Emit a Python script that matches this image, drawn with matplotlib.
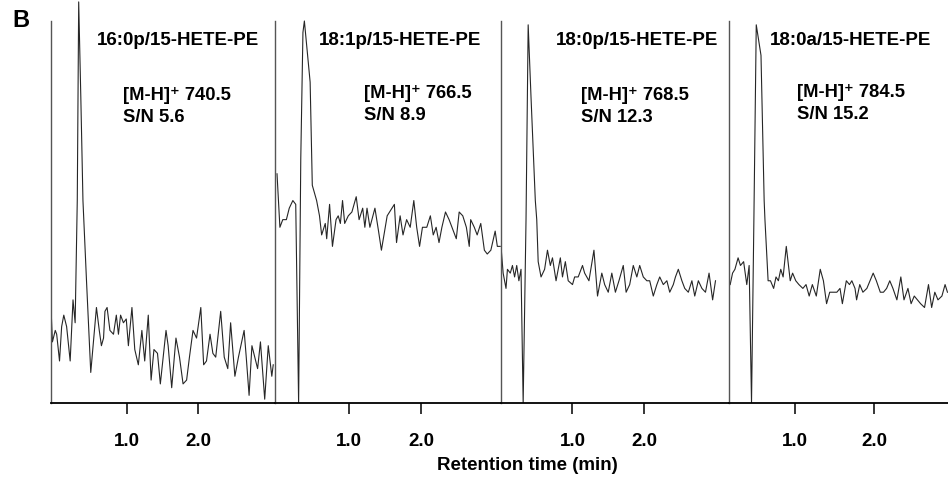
import matplotlib.pyplot as plt

plt.rcParams['font.family'] = ['Liberation Sans', 'DejaVu Sans']
plt.rcParams['font.weight'] = 'bold'

# Namen, Ionen und S/N je Chromatogramm
names = ["16:0p/15-HETE-PE", "18:1p/15-HETE-PE", "18:0p/15-HETE-PE", "18:0a/15-HETE-PE"]
ions = ["740.5", "766.5", "768.5", "784.5"]
sn = ["5.6", "8.9", "12.3", "15.2"]
tick_vals = [1.0, 2.0]
tick_labels = ["1.0", "2.0"]

# Retentionszeit (min) und relative Intensitaet (%)
t1 = [-0.07, -0.05, -0.01, 0.01, 0.05, 0.08, 0.11, 0.15, 0.20, 0.24, 0.27, 0.30, 0.32, 0.35,
      0.38, 0.43, 0.49, 0.57, 0.61, 0.64, 0.67, 0.69, 0.72, 0.76, 0.81, 0.85, 0.88, 0.91,
      0.95, 0.99, 1.02, 1.07, 1.11, 1.16, 1.21, 1.25, 1.30, 1.34, 1.38, 1.43, 1.47, 1.55,
      1.58, 1.63, 1.69, 1.74, 1.79, 1.84, 1.88, 1.93, 1.98, 2.04, 2.08, 2.12, 2.17, 2.21,
      2.25, 2.32, 2.37, 2.42, 2.46, 2.52, 2.57, 2.65, 2.68, 2.72, 2.76, 2.80, 2.84, 2.88,
      2.94, 2.99, 3.04, 3.06]
i1 = [25, 16, 19, 18, 11, 20, 23, 20, 11, 27, 21, 53, 105, 80,
      53, 32, 8, 25, 19, 15, 17, 24, 25, 19, 18, 23, 18, 23,
      21, 22, 15, 25, 14, 10, 19, 11, 23, 6, 14, 13, 5, 19,
      15, 4, 17, 12, 5, 6, 12, 19, 17, 25, 10, 11, 18, 13,
      12, 24, 12, 9, 21, 7, 12, 19, 12, 2, 15, 12, 9, 16,
      1, 15, 7, 10]

t2 = [0.00, 0.04, 0.08, 0.13, 0.17, 0.22, 0.26, 0.30, 0.33, 0.36, 0.38, 0.40, 0.46, 0.49, 0.55,
      0.59, 0.62, 0.67, 0.69, 0.73, 0.77, 0.82, 0.85, 0.88, 0.91, 0.94, 0.99, 1.04, 1.10,
      1.14, 1.19, 1.22, 1.25, 1.29, 1.36, 1.41, 1.45, 1.53, 1.63, 1.66, 1.71, 1.75, 1.80,
      1.85, 1.90, 1.94, 1.98, 2.02, 2.08, 2.13, 2.17, 2.21, 2.25, 2.29, 2.34, 2.39, 2.43,
      2.49, 2.53, 2.58, 2.63, 2.67, 2.69, 2.74, 2.78, 2.83, 2.88, 2.92, 2.97, 3.03, 3.06,
      3.10]
i2 = [60, 46, 48, 48, 51, 53, 52, 0, 64, 97, 100, 96, 84, 57, 53,
      49, 44, 47, 43, 52, 41, 48, 49, 47, 53, 47, 49, 50, 54,
      48, 51, 46, 51, 46, 51, 45, 40, 49, 52, 42, 49, 44, 48,
      46, 53, 46, 41, 46, 46, 49, 44, 46, 42, 46, 50, 48, 46,
      43, 50, 49, 46, 41, 48, 46, 44, 47, 40, 39, 40, 45, 41,
      41]

t3 = [0.00, 0.03, 0.07, 0.09, 0.13, 0.16, 0.19, 0.22, 0.25, 0.28, 0.31, 0.35, 0.38, 0.42,
      0.48, 0.50, 0.52, 0.56, 0.61, 0.65, 0.69, 0.72, 0.77, 0.83, 0.86, 0.90, 0.94, 1.00,
      1.03, 1.08, 1.14, 1.17, 1.23, 1.30, 1.35, 1.41, 1.45, 1.50, 1.55, 1.60, 1.65, 1.71,
      1.75, 1.80, 1.85, 1.90, 1.94, 1.99, 2.04, 2.08, 2.13, 2.18, 2.22, 2.27, 2.32, 2.36,
      2.41, 2.44, 2.48, 2.53, 2.57, 2.62, 2.67, 2.71, 2.76, 2.81, 2.86, 2.91, 2.96, 3.00]
i3 = [41, 34, 30, 35, 34, 36, 33, 36, 32, 35, 0, 48, 99, 80,
      53, 48, 37, 33, 35, 40, 36, 38, 32, 38, 33, 37, 32, 31,
      33, 33, 36, 34, 32, 40, 28, 34, 31, 29, 34, 29, 32, 36,
      29, 31, 36, 33, 36, 33, 32, 32, 28, 31, 33, 31, 32, 29,
      31, 33, 35, 32, 30, 29, 32, 28, 32, 30, 29, 34, 27, 32]

t4 = [0.18, 0.21, 0.24, 0.28, 0.31, 0.35, 0.39, 0.42, 0.45, 0.48, 0.51, 0.57, 0.61, 0.62,
      0.66, 0.69, 0.73, 0.76, 0.79, 0.82, 0.85, 0.89, 0.94, 0.97, 1.01, 1.05, 1.10, 1.14,
      1.18, 1.22, 1.27, 1.32, 1.36, 1.40, 1.44, 1.48, 1.53, 1.57, 1.60, 1.65, 1.69, 1.72,
      1.76, 1.78, 1.82, 1.86, 1.91, 1.95, 1.99, 2.03, 2.08, 2.12, 2.16, 2.20, 2.24, 2.29,
      2.34, 2.38, 2.43, 2.47, 2.51, 2.55, 2.59, 2.64, 2.69, 2.73, 2.77, 2.81, 2.86, 2.90,
      2.93]
i4 = [31, 34, 35, 38, 36, 37, 31, 36, 0, 48, 99, 91, 53, 48,
      32, 32, 30, 33, 32, 35, 33, 41, 32, 34, 32, 31, 30, 31,
      28, 31, 28, 35, 32, 26, 29, 29, 29, 30, 26, 32, 31, 32,
      30, 27, 31, 29, 30, 32, 34, 32, 29, 29, 30, 32, 30, 27,
      33, 27, 30, 26, 28, 27, 26, 25, 31, 25, 29, 27, 28, 31,
      29]

times = [t1, t2, t3, t4]
intens = [i1, i2, i3, i4]

# Layout in Pixeln (948 x 489)
W, H = 948, 489
edges = [(51, 275), (275, 501), (501, 729), (729, 948)]
xlims = [(-0.07, 3.085), (-0.028, 3.111), (0.0, 3.189), (0.165, 2.937)]
base_px = 404
title_x = [97, 319, 556, 770]
ion_x = [123, 364, 581, 797]
ion_y = [100, 98, 100, 97]


def fx(x):
    return x / W


def fy(y):
    return 1 - y / H


fig = plt.figure(figsize=(W / 100, H / 100), dpi=100)

for k in range(4):
    l, r = edges[k]
    ax = fig.add_axes([fx(l), fy(base_px), (r - l) / W, base_px / H])
    ax.plot(times[k], intens[k], color="#262626", lw=0.8)
    ax.set_xlim(*xlims[k])
    ax.set_ylim(0, base_px / 3.82)
    ax.patch.set_visible(False)

    for s in ["top", "right"]:
        ax.spines[s].set_visible(False)
    ax.spines["left"].set_bounds(0, 100)
    ax.spines["left"].set_color("#555555")
    ax.spines["left"].set_linewidth(1.0)
    ax.spines["bottom"].set_linewidth(1.3)

    ax.set_yticks([])
    ax.set_xticks(tick_vals)
    ax.set_xticklabels(tick_labels, fontweight="bold")
    ax.tick_params(axis="x", length=8, width=1.1, pad=13, labelsize=13.5)

    # Beschriftungen
    fig.text(fx(title_x[k]), fy(45), names[k], fontsize=13.5, fontweight="bold",
             ha="left", va="baseline")
    fig.text(fx(ion_x[k]), fy(ion_y[k]), "[M-H]\u207a " + ions[k], fontsize=13.2,
             fontweight="bold", ha="left", va="baseline")
    fig.text(fx(ion_x[k]), fy(ion_y[k] + 22), "S/N " + sn[k], fontsize=13.2,
             fontweight="bold", ha="left", va="baseline")

fig.text(fx(12), fy(27), "B", fontsize=17, fontweight="bold", ha="left", va="baseline")
fig.text(fx(527), fy(470), "Retention time (min)", fontsize=13.5, fontweight="bold",
         ha="center", va="baseline")

plt.savefig("out.png", dpi=100)
